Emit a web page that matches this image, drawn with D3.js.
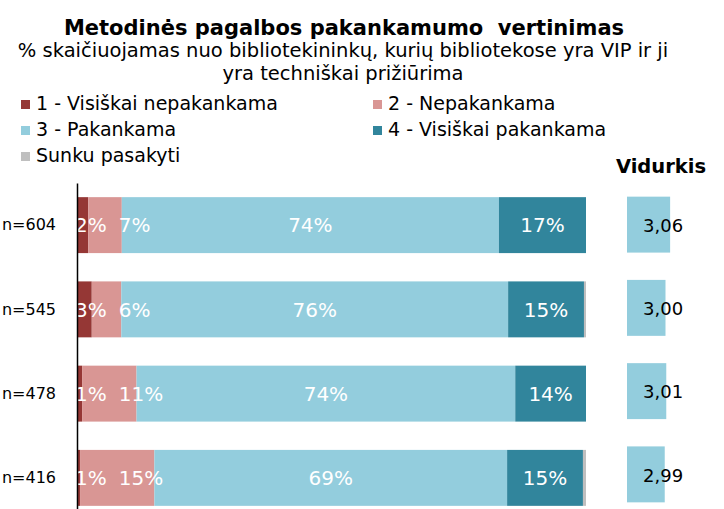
<!DOCTYPE html>
<html>
<head>
<meta charset="utf-8">
<script src="https://cdn.jsdelivr.net/npm/d3@7"></script>
<style>
  body { margin: 0; background: #fff; }
  svg { display: block; }
</style>
</head>
<body>
<script>
// data
var categories = ["n=604", "n=545", "n=478", "n=416"];
var seriesNames = ["1 - Visiškai nepakankama", "2 - Nepakankama", "3 - Pakankama", "4 - Visiškai pakankama", "Sunku pasakyti"];
var visiskaiNepakankama = [2.2, 2.9, 1.0, 0.6];
var nepakankama = [6.6, 5.8, 10.7, 14.6];
var pakankama = [74.1, 76.0, 74.4, 69.3];
var visiskaiPakankama = [17.1, 14.9, 13.9, 14.9];
var sunkuPasakyti = [0, 0.4, 0, 0.6];
var vidurkis = [3.06, 3.0, 3.01, 2.99];

var colors = ["#953735", "#d99694", "#93cddd", "#31859c", "#bfbfbf"];
var font = "'DejaVu Sans', Verdana, sans-serif";

var width = 724, height = 509;

var svg = d3
  .select("body")
  .append("svg")
  .attr("width", width)
  .attr("height", height)
  .style("font-family", font);

// table for the stack
var keys = ["s0", "s1", "s2", "s3", "s4"];
var allSeries = [visiskaiNepakankama, nepakankama, pakankama, visiskaiPakankama, sunkuPasakyti];
var table = categories.map(function (c, i) {
  var row = { cat: c };
  keys.forEach(function (k, j) {
    row[k] = allSeries[j][i];
  });
  return row;
});
var stacked = d3.stack().keys(keys)(table);

var x = d3.scaleLinear().domain([0, 100]).range([77, 586]);
var y = d3.scaleBand().domain(categories).range([183, 520]).paddingInner(0.336).paddingOuter(0.168);

var vx = d3.scaleLinear().domain([2.5, 3.5]).range([627, 704]);
var vy = d3.scaleBand().domain(categories).range([183, 516]).paddingInner(0.328).paddingOuter(0.164);

// title
svg.append("text")
  .attr("x", 344).attr("y", 35)
  .attr("text-anchor", "middle")
  .style("font-size", "21px").style("font-weight", "bold")
  .style("fill", "#000")
  .style("white-space", "pre")
  .text("Metodinės pagalbos pakankamumo  vertinimas");

var subtitle = ["% skaičiuojamas nuo bibliotekininkų, kurių bibliotekose yra VIP ir ji", "yra techniškai prižiūrima"];
subtitle.forEach(function (line, i) {
  svg.append("text")
    .attr("x", 343).attr("y", 57 + i * 23)
    .attr("text-anchor", "middle")
    .style("font-size", "19.5px")
    .style("fill", "#000")
    .text(line);
});

// legend
var legend = svg.selectAll(".legend")
  .data(seriesNames)
  .enter()
  .append("g")
  .attr("class", "legend")
  .attr("transform", function (d, i) {
    return "translate(" + (i % 2 === 0 ? 21 : 373) + "," + (110 + Math.floor(i / 2) * 26) + ")";
  });
legend.append("rect")
  .attr("x", 0).attr("y", -10)
  .attr("width", 9).attr("height", 9)
  .style("fill", function (d, i) { return colors[i]; });
legend.append("text")
  .attr("x", 15).attr("y", 0)
  .style("font-size", "19px")
  .style("fill", "#000")
  .text(function (d) { return d; });

// stacked bars
var layer = svg.selectAll(".layer")
  .data(stacked)
  .enter()
  .append("g")
  .attr("class", "layer")
  .style("fill", function (d, i) { return colors[i]; });

layer.selectAll("rect")
  .data(function (d) { return d; })
  .enter()
  .append("rect")
  .attr("x", function (d) { return x(d[0]); })
  .attr("y", function (d) { return y(d.data.cat); })
  .attr("width", function (d) { return x(d[1]) - x(d[0]); })
  .attr("height", y.bandwidth());

// percent labels, pushed right when they would overlap
var labelGroup = svg.append("g").style("font-size", "20px").style("fill", "#fff");
categories.forEach(function (c, i) {
  var prevEnd = -Infinity;
  stacked.forEach(function (s, j) {
    if (j === 4) return;
    var seg = s[i];
    var t = labelGroup.append("text")
      .attr("y", y(c) + y.bandwidth() / 2)
      .attr("dy", "0.36em")
      .text(Math.round(seg[1] - seg[0]) + "%");
    var w = t.node().getComputedTextLength();
    var start = (x(seg[0]) + x(seg[1])) / 2 - w / 2;
    start = Math.max(start, x(0) - 2, prevEnd + 12);
    t.attr("x", start);
    prevEnd = start + w;
  });
});

// category axis
var axis = svg.append("g")
  .attr("transform", "translate(" + x(0) + ",0)")
  .call(d3.axisLeft(y).tickSize(0).tickPadding(21));
axis.select(".domain").attr("stroke", "#000").attr("stroke-width", 1.5);
axis.selectAll("text").style("font-size", "16px").style("font-family", font).attr("fill", "#000");

// averages
svg.append("text")
  .attr("x", 661).attr("y", 173)
  .attr("text-anchor", "middle")
  .style("font-size", "19.5px").style("font-weight", "bold")
  .style("fill", "#000")
  .text("Vidurkis");

svg.selectAll(".vbar")
  .data(vidurkis)
  .enter()
  .append("rect")
  .attr("class", "vbar")
  .attr("x", vx(2.5))
  .attr("y", function (d, i) { return vy(categories[i]); })
  .attr("width", function (d) { return vx(d) - vx(2.5); })
  .attr("height", vy.bandwidth())
  .style("fill", colors[2]);

svg.selectAll(".vlabel")
  .data(vidurkis)
  .enter()
  .append("text")
  .attr("class", "vlabel")
  .attr("x", vx(2.5) + 16)
  .attr("y", function (d, i) { return vy(categories[i]) + vy.bandwidth() / 2; })
  .attr("dy", "0.4em")
  .style("font-size", "18px")
  .style("fill", "#000")
  .text(function (d) { return d3.format(".2f")(d).replace(".", ","); });
</script>
</body>
</html>
